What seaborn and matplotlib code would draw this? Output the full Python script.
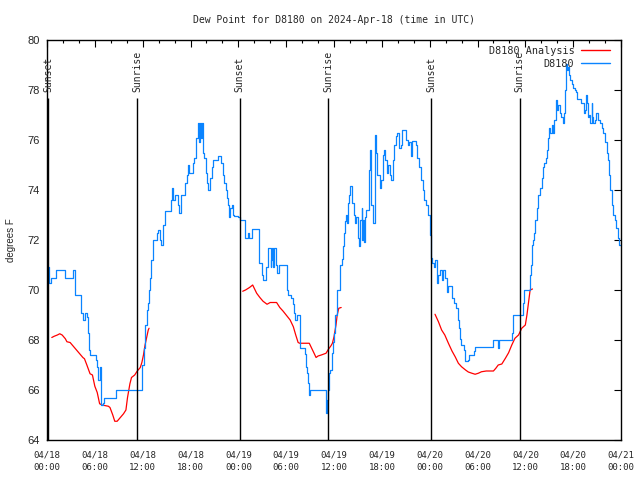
import numpy as np
import pandas as pd
import matplotlib
matplotlib.use("Agg")
import matplotlib.pyplot as plt
import matplotlib.dates as mdates
from matplotlib.lines import Line2D
import seaborn as sns

# -----------------------------
# Data (hours after 2024-04-18 00:00 UTC)
# -----------------------------
start = pd.Timestamp("2024-04-18 00:00")

# observed dew point, change points of a step line
obs_hours = [
    0.0, 0.2, 0.5, 1.1, 2.2, 3.2, 3.5, 4.3, 4.5, 4.8, 5.0, 5.1, 5.3, 5.45, 6.1, 6.25, 6.4,
    6.7, 6.8, 7.05, 7.2, 8.6, 11.9, 12.15, 12.35, 12.55, 12.7, 12.8, 12.95, 13.1, 13.25,
    13.75, 13.95, 14.15, 14.35, 14.6, 14.75, 15.5, 15.65, 15.8, 16.0, 16.4, 16.55, 16.8,
    17.3, 17.5, 17.65, 17.85, 18.3, 18.5, 18.7, 18.95, 19.1, 19.2, 19.35, 19.45, 19.55,
    19.75, 19.95, 20.1, 20.2, 20.5, 20.65, 20.85, 21.45, 21.85, 22.05, 22.25, 22.4, 22.55,
    22.7, 22.85, 22.95, 23.15, 23.3, 23.5, 23.9, 24.2, 24.8, 25.2, 25.4, 25.7, 26.55,
    26.95, 27.15, 27.45, 27.7, 28.05, 28.15, 28.25, 28.35, 28.45, 28.75, 28.9, 29.05,
    29.15, 30.1, 30.2, 30.6, 30.8, 30.95, 31.1, 31.3, 31.75, 32.3, 32.5, 32.6, 32.8, 32.9,
    33.0, 34.95, 35.1, 35.25, 35.4, 35.55, 35.7, 35.85, 36.0, 36.15, 36.35, 36.7, 36.95,
    37.1, 37.25, 37.4, 37.5, 37.6, 37.75, 37.9, 38.05, 38.2, 38.3, 38.45, 38.6, 38.8,
    39.0, 39.15, 39.3, 39.45, 39.55, 39.65, 39.75, 39.85, 40.0, 40.35, 40.5, 40.6, 40.7,
    40.95, 41.1, 41.25, 41.4, 41.75, 41.95, 42.1, 42.25, 42.45, 42.6, 42.75, 43.05, 43.2,
    43.35, 43.5, 43.75, 43.95, 44.1, 44.45, 44.55, 45.05, 45.25, 45.45, 45.6, 45.75,
    46.25, 46.4, 46.65, 46.95, 47.15, 47.3, 47.5, 47.8, 48.0, 48.2, 48.35, 48.55, 48.7,
    48.95, 49.05, 49.25, 49.5, 49.65, 49.95, 50.15, 50.3, 50.85, 51.0, 51.35, 51.5, 51.65,
    51.8, 51.9, 52.35, 52.45, 52.75, 52.9, 53.55, 53.7, 56.0, 56.55, 56.65, 58.3, 58.4,
    58.5, 59.75, 59.85, 60.55, 60.65, 60.8, 60.95, 61.1, 61.25, 61.45, 61.65, 61.9, 62.1,
    62.25, 62.4, 62.6, 62.75, 62.9, 63.0, 63.15, 63.3, 63.45, 63.6, 63.8, 63.9, 64.0,
    64.15, 64.3, 64.5, 64.7, 64.8, 64.95, 65.05, 65.15, 65.25, 65.35, 65.5, 65.65, 65.8,
    65.95, 66.2, 66.35, 66.5, 67.0, 67.35, 67.5, 67.6, 67.7, 67.8, 67.9, 68.0, 68.1, 68.3,
    68.4, 68.5, 68.7, 68.9, 69.1, 69.35, 69.6, 69.8, 70.0, 70.2, 70.35, 70.5, 70.65,
    70.85, 71.0, 71.2, 71.4, 71.6, 71.8, 72.0,
]
obs_dewpt = [
    70.9, 70.3, 70.5, 70.8, 70.5, 70.8, 69.8, 69.1, 68.8, 69.1, 68.9, 68.3, 67.6, 67.4, 67.2, 66.9, 66.4,
    66.9, 65.4, 65.5, 65.7, 66.0, 67.0, 67.7, 68.6, 69.2, 69.5, 70.0, 70.5, 71.2, 72.0,
    72.3, 72.4, 72.0, 71.8, 72.6, 73.15, 73.6, 74.1, 73.6, 73.8, 73.4, 73.1, 73.8,
    74.3, 74.6, 75.0, 74.7, 75.1, 75.3, 76.1, 76.7, 75.9, 76.7, 76.1, 76.7, 75.5,
    75.3, 74.7, 74.3, 74.0, 74.5, 74.9, 75.2, 75.35, 75.1, 74.6, 74.3, 74.0, 73.7,
    73.4, 72.9, 73.3, 73.4, 73.0, 72.95, 72.9, 72.8, 72.1, 72.3, 72.1, 72.45, 71.1,
    70.6, 70.4, 70.9, 71.7, 70.9, 71.2, 71.7, 70.9, 71.7, 71.0, 70.7, 70.9,
    71.0, 70.0, 69.8, 69.7, 69.45, 69.1, 68.8, 69.0, 67.7, 67.45, 66.9, 66.7, 66.3, 65.8,
    66.0, 65.1, 65.6, 66.0, 66.7, 66.8, 67.5, 67.9, 68.3, 69.0, 70.0, 71.0, 71.25,
    71.75, 72.3, 72.75, 73.0, 72.7, 73.5, 73.8, 74.15, 73.9, 73.5, 73.0, 72.7, 72.9,
    72.1, 71.75, 72.8, 73.3, 72.0, 72.8, 71.9, 72.9, 73.2, 74.8, 75.6, 75.2, 73.4,
    72.7, 76.2, 75.5, 74.6, 74.1, 74.4, 75.4, 75.6, 75.2, 74.7, 75.0, 74.6, 74.4,
    75.2, 75.8, 76.15, 76.3, 75.7, 75.8, 76.4, 76.0, 75.8, 75.9, 75.35, 75.95,
    75.8, 75.3, 74.9, 74.4, 74.0, 73.6, 73.4, 73.0, 72.2, 71.3, 71.1, 70.9, 71.2,
    70.3, 70.6, 70.8, 70.4, 70.8, 70.5, 69.9, 70.15, 69.7, 69.5, 69.3, 68.8, 68.5,
    68.05, 67.8, 67.6, 67.15, 67.2, 67.4, 67.55, 67.72, 68.0, 67.7, 68.0, 68.3, 68.7,
    69.0, 69.5, 70.0, 70.6, 71.0, 71.8, 72.0, 72.3, 72.8, 73.3, 73.8, 74.1, 74.5,
    74.9, 75.1, 75.3, 75.6, 76.1, 76.5, 76.3, 76.6, 76.3, 76.8, 77.4, 77.6, 77.2,
    77.4, 77.1, 76.9, 76.7, 77.1, 78.0, 78.6, 79.05, 78.8, 78.9, 78.6, 78.4, 78.25,
    78.1, 78.0, 77.9, 77.65, 77.5, 77.1, 77.2, 77.8, 77.5, 77.1, 76.9, 77.0, 76.7, 77.5,
    76.9, 76.7, 76.8, 77.1, 76.8, 76.7, 76.5, 76.3, 75.9, 75.5, 75.2, 74.6, 74.0,
    73.4, 73.0, 72.8, 72.5, 72.1, 71.8, 71.8,
]

# analysis dew point, one run per day
ana_day1_hours = [0.6, 0.9, 1.3, 1.6, 1.9, 2.3, 2.5, 2.9, 3.3, 3.7, 4.1, 4.5, 4.7, 5.0, 5.4,
                  5.7, 6.0, 6.3, 6.6, 6.9, 7.7, 7.9, 8.25, 8.5, 8.8, 9.2, 9.6, 9.9, 10.1,
                  10.4, 10.6, 11.0, 11.3, 11.7, 11.9, 12.1, 12.3, 12.5, 12.7, 12.8]
ana_day1_dewpt = [68.1, 68.15, 68.2, 68.25, 68.2, 68.05, 67.93, 67.9, 67.75, 67.6, 67.45,
                  67.3, 67.25, 67.0, 66.65, 66.6, 66.15, 65.9, 65.45, 65.4, 65.35, 65.3,
                  65.0, 64.75, 64.75, 64.9, 65.05, 65.2, 65.7, 66.25, 66.5, 66.6, 66.75,
                  66.9, 67.1, 67.4, 67.8, 68.1, 68.4, 68.47]
ana_day2_hours = [24.55, 24.9, 25.4, 25.8, 25.95, 26.3, 26.7, 27.1, 27.6, 28.0, 28.4, 28.8,
                  29.2, 29.6, 30.0, 30.5, 30.9, 31.2, 31.5, 31.7, 32.9, 33.2, 33.5, 33.75,
                  34.0, 34.4, 35.0, 35.3, 35.6, 35.8, 36.0, 36.25, 36.4, 36.6, 36.9]
ana_day2_dewpt = [69.95, 70.0, 70.1, 70.2, 70.1, 69.87, 69.7, 69.55, 69.43, 69.5, 69.5,
                  69.5, 69.3, 69.16, 69.0, 68.8, 68.53, 68.2, 67.9, 67.87, 67.87, 67.67,
                  67.47, 67.3, 67.36, 67.4, 67.47, 67.63, 67.76, 67.87, 68.13, 68.6, 69.0,
                  69.27, 69.3]
ana_day3_hours = [48.67, 49.1, 49.5, 49.9, 50.35, 50.8, 51.2, 51.6, 52.0, 52.5, 52.85, 53.3,
                  53.7, 54.1, 54.5, 55.1, 56.0, 56.3, 56.6, 57.05, 57.5, 57.9, 58.3, 58.7,
                  59.15, 59.55, 60.0, 60.2, 60.4, 60.6, 60.9]
ana_day3_dewpt = [69.03, 68.73, 68.4, 68.2, 67.87, 67.56, 67.33, 67.07, 66.93, 66.8, 66.72,
                  66.67, 66.63, 66.67, 66.73, 66.76, 66.76, 66.87, 67.0, 67.04, 67.27,
                  67.49, 67.8, 68.07, 68.2, 68.47, 68.6, 69.0, 69.5, 70.0, 70.04]

sun_hours = [0.16, 11.3, 24.18, 35.3, 48.18, 59.3]
sun_labels = ["Sunset", "Sunrise", "Sunset", "Sunrise", "Sunset", "Sunrise"]

# -----------------------------
# Build frames
# -----------------------------
def to_time(h):
    return start + pd.to_timedelta(np.asarray(h), unit="h")

obs = pd.DataFrame({"time": to_time(obs_hours), "dewpt": obs_dewpt})
ana = pd.concat([
    pd.DataFrame({"time": to_time(ana_day1_hours), "dewpt": ana_day1_dewpt, "day": 1}),
    pd.DataFrame({"time": to_time(ana_day2_hours), "dewpt": ana_day2_dewpt, "day": 2}),
    pd.DataFrame({"time": to_time(ana_day3_hours), "dewpt": ana_day3_dewpt, "day": 3}),
])

# -----------------------------
# Plot
# -----------------------------
sns.set_style("white")
mono = "DejaVu Sans Mono"
sans = "Liberation Sans"
blue = "#0a84ff"
red = "#ff0000"

fig, ax = plt.subplots(figsize=(6.4, 4.8), dpi=100)
fig.subplots_adjust(left=47/640, right=621/640, bottom=40/480, top=440/480)

sns.lineplot(data=ana, x="time", y="dewpt", units="day", estimator=None,
             color=red, lw=0.9, ax=ax)
sns.lineplot(data=obs, x="time", y="dewpt", estimator=None, sort=False,
             drawstyle="steps-post", color=blue, lw=0.9, ax=ax)

sun_times = to_time(sun_hours)
ax.vlines(sun_times, 64, 77.67, color="black", lw=1.0)
for t, lab in zip(sun_times, sun_labels):
    ax.text(t, 77.93, lab, rotation=90, ha="center", va="bottom",
            family=mono, fontsize=7)

ax.set_xlim(start, start + pd.Timedelta(hours=72))
ax.set_ylim(64, 80)
ax.set_yticks(np.arange(64, 81, 2))
ax.xaxis.set_major_locator(mdates.HourLocator(byhour=[0, 6, 12, 18]))
ax.xaxis.set_minor_locator(mdates.HourLocator(byhour=range(0, 24, 2)))
ax.xaxis.set_major_formatter(mdates.DateFormatter("%m/%d\n%H:%M"))

ax.tick_params(which="both", direction="in", top=True, right=True, color="black")
ax.tick_params(which="major", length=5, width=0.8)
ax.tick_params(which="minor", length=2.5, width=0.8)
ax.tick_params(axis="x", pad=7.5)
ax.tick_params(axis="y", pad=5)
for lab in ax.get_xticklabels():
    lab.set_family(mono)
    lab.set_fontsize(6.5)
    lab.set_linespacing(1.5)
for lab in ax.get_yticklabels():
    lab.set_family(sans)
    lab.set_fontsize(8)

for s in ax.spines.values():
    s.set_color("black")
    s.set_linewidth(1.0)

ax.set_xlabel("")
ax.set_ylabel("degrees F", family=sans, fontsize=7)
ax.yaxis.set_label_coords(-31/574, 0.5)

fig.text(334/640, 1 - 20/480, "Dew Point for D8180 on 2024-Apr-18 (time in UTC)",
         ha="center", va="center", family=mono, fontsize=7)

handles = [Line2D([], [], color=red, lw=1.0), Line2D([], [], color=blue, lw=1.0)]
ax.legend(handles, ["D8180 Analysis", "D8180"], loc="upper right", frameon=False,
          bbox_to_anchor=(1 - 9/574, 1 - 4/400),
          markerfirst=False, prop={"family": mono, "size": 7.3},
          handlelength=2.9, handletextpad=0.6, labelspacing=0.25,
          borderaxespad=0.0, borderpad=0.2)

plt.savefig("out.png", dpi=100)
